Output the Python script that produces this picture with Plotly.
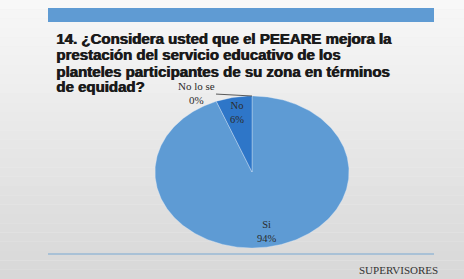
import numpy as np
import plotly.graph_objects as go

# ---- data ----
categories = ["Si", "No", "No lo se"]
percents = [94, 6, 0]
colors = ["#5e9bd4", "#2e76c8", "#1f5fa8"]
title_lines = [
    "14. ¿Considera usted que el PEEARE mejora la",
    "prestación del servicio educativo de los",
    "planteles participantes de su zona en términos",
    "de equidad?",
]
footer = "SUPERVISORES"

W, H = 464, 279
fig = go.Figure()

# pie drawn as filled polygons on an (elliptical) unit circle, clockwise from 12 o'clock
total = float(sum(percents))
cum = 0.0
mids = []
for cat, p, col in zip(categories, percents, colors):
    f0 = cum / total
    f1 = (cum + p) / total
    cum += p
    mids.append((f0 + f1) / 2)
    if p <= 0:
        continue
    t = np.linspace(f0, f1, max(3, int(400 * (f1 - f0))))
    ang = np.pi / 2 - 2 * np.pi * t
    xs = np.concatenate([[0], np.cos(ang), [0]])
    ys = np.concatenate([[0], np.sin(ang), [0]])
    fig.add_trace(go.Scatter(x=xs, y=ys, fill="toself", fillcolor=col, mode="lines",
                             line=dict(color="rgba(225,236,248,0.6)", width=0.6),
                             hoverinfo="skip", showlegend=False))

# slice labels inside
for cat, p, m in zip(categories, percents, mids):
    if p <= 0:
        continue
    a = np.pi / 2 - 2 * np.pi * m
    fig.add_annotation(x=0.8 * np.cos(a), y=0.8 * np.sin(a), xref="x", yref="y",
                       xanchor="center", text=f"{cat}<br>{p}%", showarrow=False,
                       font=dict(family="Liberation Serif", size=10.5, color="#2b2b2b"))

# zero slice label with leader line
for cat, p, m in zip(categories, percents, mids):
    if p > 0:
        continue
    a = np.pi / 2 - 2 * np.pi * m
    fig.add_annotation(x=np.cos(a), y=np.sin(a), xref="x", yref="y",
                       text=f"{cat}<br>{p}%", showarrow=True, arrowhead=0,
                       arrowwidth=0.8, arrowcolor="#333333", ax=-56, ay=-3,
                       font=dict(family="Liberation Serif", size=11, color="#2b2b2b"))

# background gradient
n = 30
for i in range(n):
    v = int(248 - (248 - 216) * i / (n - 1))
    fig.add_shape(type="rect", xref="paper", yref="paper", x0=0, x1=1,
                  y0=1 - (i + 1) / n, y1=1 - i / n, layer="below",
                  fillcolor=f"rgb({v},{v},{v})", line=dict(width=0))

# top blue bar
fig.add_shape(type="rect", xref="paper", yref="paper", x0=48 / W, x1=434 / W,
              y0=1 - 22 / H, y1=1 - 8 / H, fillcolor="#5f9bd3", line=dict(width=0))
# bottom rule
fig.add_shape(type="line", xref="paper", yref="paper", x0=48 / W, x1=434 / W,
              y0=1 - 254 / H, y1=1 - 254 / H, line=dict(color="#a9c1d6", width=2))

# title lines
for i, ln in enumerate(title_lines):
    base = 44 + 16 * i
    fig.add_annotation(x=55 / W, y=1 - (base - 5) / H, xref="paper", yref="paper",
                       xanchor="left", yanchor="middle", text=ln, showarrow=False,
                       borderpad=0,
                       font=dict(family="Liberation Sans, Arial", size=15, weight="bold",
                                 color="#1a1a1a", shadow="0.8px 0 0 #1a1a1a"))

fig.add_annotation(x=398 / W, y=1 - 270 / H, xref="paper", yref="paper",
                   xanchor="center", yanchor="middle",
                   text=footer, showarrow=False,
                   font=dict(family="Liberation Serif", size=11, color="#333333"))

fig.update_layout(
    width=W, height=H, autosize=False,
    margin=dict(l=0, r=0, t=0, b=0),
    paper_bgcolor="#eeeeee", plot_bgcolor="rgba(0,0,0,0)",
    xaxis=dict(domain=[155 / W, 349 / W], range=[-1, 1], visible=False, fixedrange=True),
    yaxis=dict(domain=[(H - 248) / H, (H - 96) / H], range=[-1, 1], visible=False, fixedrange=True),
)
fig.write_html("out.html", config={"displayModeBar": False},
               post_script="document.body.style.margin='0';document.body.style.overflow='hidden';")
